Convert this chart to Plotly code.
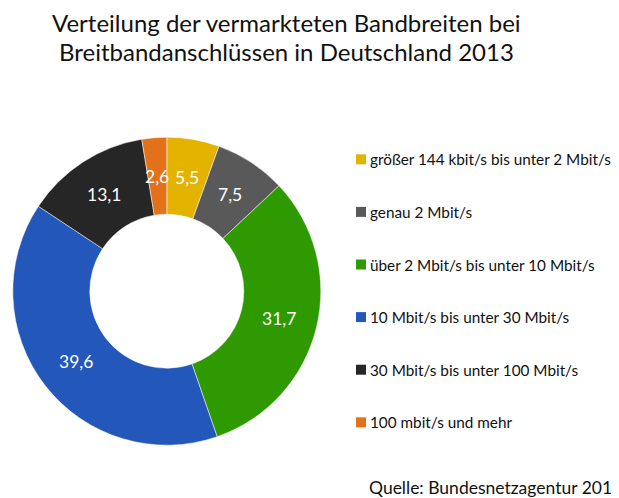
import math
import plotly.graph_objects as go

categories = [
    "größer 144 kbit/s bis unter 2 Mbit/s",
    "genau 2 Mbit/s",
    "über 2 Mbit/s bis unter 10 Mbit/s",
    "10 Mbit/s bis unter 30 Mbit/s",
    "30 Mbit/s bis unter 100 Mbit/s",
    "100 mbit/s und mehr",
]
values = [5.5, 7.5, 31.7, 39.6, 13.1, 2.6]
colors = ["#E4B300", "#595959", "#2E9A00", "#2357B9", "#262626", "#E2711A"]

title_lines = ["Verteilung der vermarkteten Bandbreiten bei",
               "Breitbandanschlüssen in Deutschland 2013"]
source_text = "Quelle: Bundesnetzagentur 2014"

# page body has an 8px margin; positions are shifted to compensate
OFF = 8
W, H = 619, 498
FONT = "Lato"


def px(x):
    return (x - OFF) / W


def py(y):
    return 1 - (y - OFF) / H


# pie geometry (reference pixels)
cx, cy, R = 166.8, 291.2, 154.0
HOLE = 0.5

fig = go.Figure()
fig.add_trace(go.Pie(
    labels=categories,
    values=values,
    sort=False,
    direction="clockwise",
    rotation=0,
    hole=HOLE,
    marker=dict(colors=colors, line=dict(color="white", width=0.5)),
    textinfo="none",
    showlegend=False,
    domain=dict(x=[px(cx - R), px(cx + R)], y=[py(cy + R), py(cy - R)]),
    hoverinfo="label+value",
))

annotations = []
shapes = []

# value labels at the middle of the ring, angle derived from data
total = sum(values)
rmid = R * (1 + HOLE) / 2
cum = 0.0
for v in values:
    ang = math.radians((cum + v / 2) / total * 360)
    cum += v
    lx = cx + rmid * math.sin(ang)
    ly = cy - rmid * math.cos(ang)
    annotations.append(dict(
        text=f"{v:.1f}".replace(".", ","), xref="paper", yref="paper",
        x=px(lx), y=py(ly), xanchor="center", yanchor="middle",
        showarrow=False, font=dict(family=FONT, size=17.5, color="white"),
    ))

# Legend drawn as squares + text, spaced like the reference
legend_x0 = 356
legend_y0 = 159.3
legend_dy = 52.6
for i, (cat, col) in enumerate(zip(categories, colors)):
    yc = legend_y0 + i * legend_dy
    shapes.append(dict(
        type="rect", xref="paper", yref="paper",
        x0=px(legend_x0), x1=px(legend_x0 + 10),
        y0=py(yc + 5), y1=py(yc - 5),
        fillcolor=col, line=dict(width=0),
    ))
    annotations.append(dict(
        text=cat, xref="paper", yref="paper",
        x=px(legend_x0 + 12), y=py(yc),
        xanchor="left", yanchor="middle", showarrow=False,
        font=dict(family=FONT, size=15.3, color="#111111"),
    ))

for j, line in enumerate(title_lines):
    annotations.append(dict(
        text=line, xref="paper", yref="paper",
        x=px(286), y=py(22 + 30 * j), xanchor="center", yanchor="middle",
        showarrow=False, font=dict(family=FONT, size=24, color="#111111"),
    ))

annotations.append(dict(
    text=source_text, xref="paper", yref="paper",
    x=px(367), y=py(487), xanchor="left", yanchor="middle",
    showarrow=False,
    font=dict(family=FONT, size=17.5, color="#111111"),
))

fig.update_layout(
    width=W, height=H,
    margin=dict(l=0, r=0, t=0, b=0),
    paper_bgcolor="white",
    plot_bgcolor="white",
    shapes=shapes,
    annotations=annotations,
)

fig.write_html("out.html")
